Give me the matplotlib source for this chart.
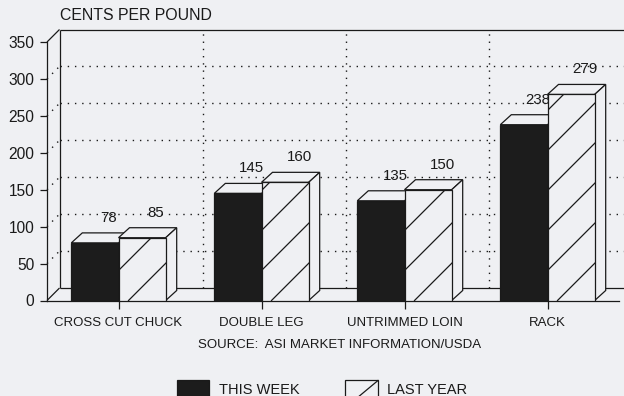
import numpy as np
import matplotlib
matplotlib.use("Agg")
import matplotlib.pyplot as plt
from matplotlib.patches import Polygon, Rectangle
from matplotlib.lines import Line2D

# ---- data ----
categories = ["CROSS CUT CHUCK", "DOUBLE LEG", "UNTRIMMED LOIN", "RACK"]
this_week = [78, 145, 135, 238]
last_year = [85, 160, 150, 279]
y_ticks = [0, 50, 100, 150, 200, 250, 300, 350]
y_title = "CENTS PER POUND"
source = "SOURCE:  ASI MARKET INFORMATION/USDA"
series_names = ["THIS WEEK", "LAST YEAR"]

# ---- style ----
W, H = 624, 396
BG = "#eff0f3"
INK = "#1a1a1a"
DARK = "#1c1c1c"
plt.rcParams["font.family"] = ["Liberation Sans", "DejaVu Sans"]
plt.rcParams["text.color"] = INK

fig = plt.figure(figsize=(W / 100, H / 100), dpi=100, facecolor=BG)
ax = fig.add_axes([47 / W, 1 - 300.5 / H, 572 / W, 258.5 / H])
ax.set_facecolor("none")
x = np.arange(len(categories))
ax.set_xlim(-0.5, len(categories) - 0.5)
ax.set_ylim(y_ticks[0], y_ticks[-1])
bar_w = 0.33


def depth(px_dx, px_dy):
    """Convert a receding offset given in pixels into data units."""
    p0 = ax.transData.transform((0, 0))
    d = ax.transData.inverted().transform((p0[0] + px_dx, p0[1] + px_dy))
    return d[0], d[1]


wdx, wdy = depth(12.5, 12.5)   # depth of the chart box
bdx, bdy = depth(11, 10)       # depth of each bar

x_lo, x_hi = ax.get_xlim()
y_top = y_ticks[-1]
solid = dict(color=INK, lw=0.9, clip_on=False, zorder=1, solid_capstyle="butt")
dotted = dict(color=INK, lw=1.0, ls=(0, (1, 4.2)), clip_on=False, zorder=1)

# back wall and floor outline
ax.plot([x_lo + wdx, x_lo + wdx], [wdy, y_top + wdy], **solid)
ax.plot([x_lo + wdx, x_hi + wdx], [y_top + wdy] * 2, **solid)
ax.plot([x_lo, x_lo + wdx], [y_top, y_top + wdy], **solid)
ax.plot([x_lo, x_lo + wdx], [0, wdy], **solid)
ax.plot([x_lo + wdx, x_hi + wdx], [wdy, wdy], **solid)

# dotted grid on the back and side walls
for v in y_ticks[1:-1]:
    ax.plot([x_lo + wdx, x_hi + wdx], [v + wdy] * 2, **dotted)
    ax.plot([x_lo, x_lo + wdx], [v, v + wdy], **dotted)
for b in x[:-1] + 0.5:
    ax.plot([b + wdx] * 2, [wdy, y_top + wdy], **dotted)


def top_face(x0, x1, v):
    return [(x0, v), (x1, v), (x1 + bdx, v + bdy), (x0 + bdx, v + bdy)]


def side_face(x1, v):
    return [(x1, 0), (x1 + bdx, bdy), (x1 + bdx, v + bdy), (x1, v)]


# this week: dark prisms
tw_bars = ax.bar(x - bar_w / 2, this_week, bar_w, color=DARK,
                 edgecolor=INK, lw=0.9, zorder=3)
for p in tw_bars:
    x0, v = p.get_x(), p.get_height()
    ax.add_patch(Polygon(top_face(x0, x0 + bar_w, v), closed=True, fc=BG,
                         ec=INK, lw=0.9, zorder=2.5, clip_on=False))

# last year: hatched prisms
ly_bars = ax.bar(x + bar_w / 2, last_year, bar_w, color=BG,
                 edgecolor=INK, lw=0.9, zorder=5)
for p in ly_bars:
    x0, v = p.get_x(), p.get_height()
    ax.add_patch(Polygon(top_face(x0, x0 + bar_w, v), closed=True, fc=BG,
                         ec=INK, lw=0.9, zorder=4.5, clip_on=False))
    ax.add_patch(Polygon(side_face(x0 + bar_w, v), closed=True, fc=BG,
                         ec=INK, lw=0.9, zorder=4.5, clip_on=False))
    # sparse diagonal hatching, 40 px apart, clipped to the front face
    (px0, py0), (px1, py1) = ax.transData.transform(
        [(x0, 0), (x0 + bar_w, v)])
    bw, bh = px1 - px0, py1 - py0
    inv = ax.transData.inverted()
    for s in np.arange(10 - 40 * np.ceil(bh / 40), bw, 40):
        seg = inv.transform([(px0 + s, py0), (px0 + s + bw + bh, py0 + bw + bh)])
        ln, = ax.plot(seg[:, 0], seg[:, 1], color=INK, lw=0.9, zorder=5.2)
        ln.set_clip_path(p)

# value labels
for xi, v in zip(x - bar_w / 2, this_week):
    ax.annotate(str(v), (xi, v), xytext=(14 * 0.72, 25 * 0.72),
                textcoords="offset points", ha="center", va="center",
                fontsize=10.8, zorder=4.8, annotation_clip=False)
for xi, v in zip(x + bar_w / 2, last_year):
    ax.annotate(str(v), (xi, v), xytext=(14 * 0.72, 25 * 0.72),
                textcoords="offset points", ha="center", va="center",
                fontsize=10.8, zorder=6, annotation_clip=False)

# axes
for side in ("top", "right"):
    ax.spines[side].set_visible(False)
for side in ("left", "bottom"):
    ax.spines[side].set_color(INK)
    ax.spines[side].set_linewidth(0.9)
ax.set_yticks(y_ticks)
ax.set_xticks(x, categories)
ax.tick_params(axis="y", length=5, width=0.9, pad=4, labelsize=11.2,
               colors=INK)
ax.tick_params(axis="x", length=5.8, width=0.9, pad=5.8, labelsize=9.5,
               colors=INK)

fig.text(60 / W, 1 - 15.5 / H, y_title, ha="left", va="center", fontsize=11.4)
fig.text(339.5 / W, 1 - 345 / H, source, ha="center", va="center",
         fontsize=9.5)

# legend
sw_h = 17.5
fig.add_artist(Rectangle((177 / W, 1 - 398 / H), 32 / W, sw_h / H,
                         transform=fig.transFigure, fc=DARK, ec=INK, lw=0.9))
fig.text(219 / W, 1 - 390 / H, series_names[0], ha="left", va="center",
         fontsize=10.5)
fig.add_artist(Rectangle((345 / W, 1 - 398 / H), 33 / W, sw_h / H,
                         transform=fig.transFigure, fc=BG, ec=INK, lw=0.9))
fig.add_artist(Line2D([357 / W, 378 / W], [1 - 398 / H, 1 - 380.5 / H],
                      transform=fig.transFigure, color=INK, lw=0.9))
fig.text(387 / W, 1 - 390 / H, series_names[1], ha="left", va="center",
         fontsize=10.5)

fig.savefig("out.png", dpi=100, facecolor=BG)
